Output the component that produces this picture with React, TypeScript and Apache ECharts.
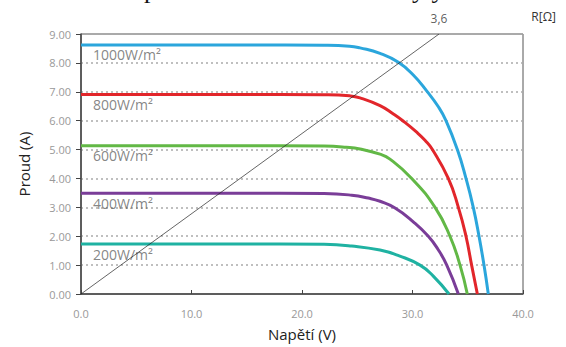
import React, { useEffect, useRef } from "react";
import * as echarts from "echarts";

// ---- data ----
const irradianceLabels = ["1000W/m²", "800W/m²", "600W/m²", "400W/m²", "200W/m²"];
const seriesColors = ["#2ba6dc", "#e2262b", "#62b846", "#7a3d98", "#1fb2a2"];

const v1000 = [0, 15, 22, 24.3, 25.25, 27.06, 28.72, 30.07, 31.28, 32.34, 33.03, 34.06, 34.84, 35.5, 36.02, 36.47, 36.86];
const i1000 = [8.62, 8.62, 8.61, 8.58, 8.52, 8.33, 8.02, 7.58, 7.03, 6.48, 6.0, 5.0, 4.0, 3.0, 2.0, 1.0, 0];

const v800 = [0, 18, 22, 24.3, 25.25, 27.06, 28.27, 29.18, 30.38, 31.13, 31.8, 33.24, 34.15, 34.84, 35.35, 35.87];
const i800 = [6.91, 6.91, 6.9, 6.86, 6.79, 6.52, 6.23, 5.98, 5.6, 5.32, 5.0, 4.0, 3.0, 2.0, 1.0, 0];

const v600 = [0, 18, 22, 24, 25.25, 27.06, 27.96, 29.93, 32.04, 33.39, 34.3, 34.96];
const i600 = [5.13, 5.13, 5.12, 5.08, 5.02, 4.84, 4.67, 4.0, 3.0, 2.0, 1.0, 0];

const v400 = [0, 18, 22, 24.5, 26, 27.06, 28.42, 30.07, 31.43, 32.3, 33.1, 34.15];
const i400 = [3.49, 3.49, 3.48, 3.42, 3.32, 3.21, 2.98, 2.5, 2.0, 1.55, 1.0, 0];

const v200 = [0, 18, 22, 24.5, 27.06, 28.8, 30.68, 31.88, 33.3];
const i200 = [1.73, 1.73, 1.72, 1.66, 1.52, 1.32, 1.0, 0.62, 0];

const diagonalV = [0, 32.4];
const diagonalI = [0, 9];
const resistanceLabel = "3,6";

const xTicks = [0, 10, 20, 30, 40];
const yTicks = [0, 1, 2, 3, 4, 5, 6, 7, 8, 9];

const curvesV = [v1000, v800, v600, v400, v200];
const curvesI = [i1000, i800, i600, i400, i200];

const FONT = "'Open Sans', 'Noto Sans', sans-serif";

export default function App() {
  const ref = useRef<HTMLDivElement>(null);

  useEffect(() => {
    if (!ref.current) return;
    const chart = echarts.init(ref.current, undefined, { renderer: "svg" });

    const curveSeries: any[] = curvesV.map((vs, k) => ({
      type: "line",
      name: irradianceLabels[k],
      data: vs.map((v, j) => [v, curvesI[k][j]]),
      showSymbol: false,
      smooth: 0.5,
      lineStyle: { color: seriesColors[k], width: 3 },
      z: 3,
    }));

    const labelSeries: any = {
      type: "scatter",
      symbolSize: 0,
      data: curvesV.map((vs, k) => [vs[0], curvesI[k][0], irradianceLabels[k]]),
      label: {
        show: true,
        position: [12, 10],
        align: "left",
        verticalAlign: "middle",
        formatter: (p: any) => p.data[2],
        color: "#666",
        fontSize: 14,
        fontFamily: FONT,
      },
      z: 4,
    };

    const diagonalSeries: any = {
      type: "line",
      data: diagonalV.map((v, j) => [v, diagonalI[j]]),
      showSymbol: false,
      lineStyle: { color: "#222", width: 0.7 },
      z: 5,
    };

    const diagLabelSeries: any = {
      type: "scatter",
      symbolSize: 0,
      data: [[diagonalV[1], diagonalI[1]]],
      label: {
        show: true,
        position: "top",
        distance: 10,
        formatter: resistanceLabel,
        color: "#333",
        fontSize: 12,
        fontFamily: FONT,
      },
    };

    chart.setOption({
      animation: false,
      backgroundColor: "#fff",
      grid: {
        left: 81,
        right: 43,
        top: 34,
        bottom: 53,
        show: true,
        borderColor: "#555",
        borderWidth: 1,
      },
      xAxis: {
        type: "value",
        min: xTicks[0],
        max: xTicks[xTicks.length - 1],
        interval: 10,
        name: "Napětí (V)",
        nameLocation: "middle",
        nameGap: 32,
        nameTextStyle: { color: "#222", fontSize: 15, fontFamily: FONT },
        axisLine: { show: true, lineStyle: { color: "#444", width: 1.5 } },
        axisTick: { show: true, inside: true, length: 4, lineStyle: { color: "#444" } },
        axisLabel: {
          color: "#999",
          fontSize: 11,
          fontFamily: FONT,
          margin: 14,
          formatter: (v: number) => v.toFixed(1),
        },
        splitLine: { show: false },
      },
      yAxis: {
        type: "value",
        min: yTicks[0],
        max: yTicks[yTicks.length - 1],
        interval: 1,
        name: "Proud (A)",
        nameLocation: "middle",
        nameGap: 50,
        nameTextStyle: { color: "#222", fontSize: 15, fontFamily: FONT },
        axisLine: { show: true, lineStyle: { color: "#444", width: 1.5 } },
        axisTick: { show: true, inside: false, length: 5, lineStyle: { color: "#444" } },
        axisLabel: {
          color: "#999",
          fontSize: 11,
          fontFamily: FONT,
          margin: 10,
          formatter: (v: number) => v.toFixed(2),
        },
        splitLine: {
          show: true,
          lineStyle: { color: "#aaa", type: [2, 3], width: 1.5 },
        },
      },
      graphic: [
        {
          type: "text",
          right: 10,
          top: 10,
          style: { text: "R[Ω]", fill: "#333", fontSize: 12, fontFamily: FONT },
        },
        {
          type: "text",
          x: 144,
          y: 2,
          style: {
            text: "p",
            fill: "#111",
            fontSize: 26,
            fontFamily: "'Liberation Serif', serif",
            verticalAlign: "bottom",
          },
        },
        {
          type: "text",
          x: 412,
          y: 2,
          style: {
            text: "y y",
            fill: "#111",
            fontSize: 26,
            fontFamily: "'Liberation Serif', serif",
            verticalAlign: "bottom",
          },
        },
      ],
      series: [...curveSeries, labelSeries, diagonalSeries, diagLabelSeries],
    });

    return () => chart.dispose();
  }, []);

  return (
    <div
      ref={ref}
      style={{ position: "fixed", left: 0, top: 0, width: 566, height: 347 }}
    />
  );
}
